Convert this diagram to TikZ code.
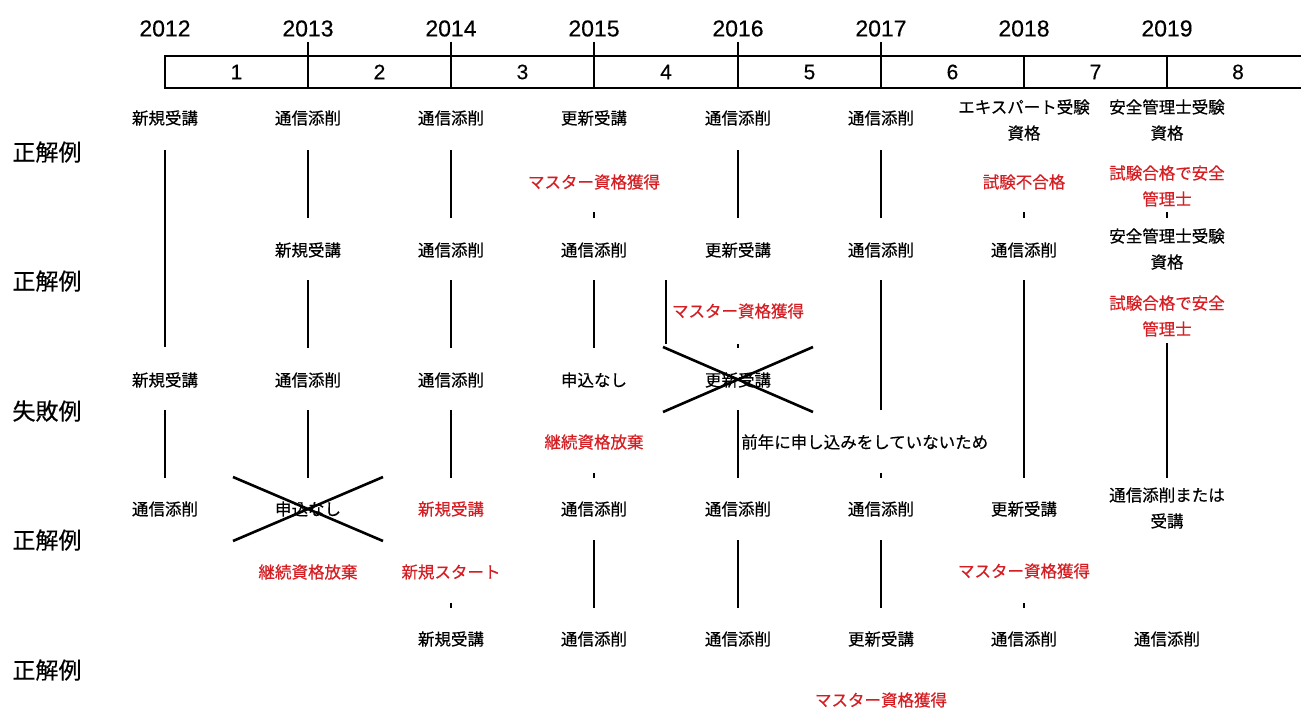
\documentclass[tikz,border=0pt]{standalone}
\usepackage{fontspec}
\setmainfont{Noto Sans CJK JP}[FakeBold=0.4]
\newfontfamily\numfont{Liberation Sans}[FakeBold=0.3]
\definecolor{jpred}{RGB}{212,30,35}
\begin{document}
\begin{tikzpicture}[x=1pt,y=-1pt,
  lbl/.style={font=\fontsize{16.5}{26}\selectfont, inner sep=0pt, align=center},
  redlbl/.style={lbl, text=jpred},
  rowlbl/.style={font=\fontsize{23}{28}\selectfont, inner sep=0pt},
  yr/.style={font=\numfont\fontsize{23}{26}\selectfont, inner sep=0pt},
  num/.style={font=\numfont\fontsize{21}{24}\selectfont, inner sep=0pt},
  vline/.style={line width=2pt},
  boxline/.style={line width=2pt},
  cross/.style={line width=2.6pt}]
\useasboundingbox (0,0) rectangle (1301,709);
% timeline
\foreach \y/\x in {2012/165,2013/308,2014/451,2015/594,2016/738,2017/881,2018/1024,2019/1167}
  \node[yr] (y\y) at (\x,28.5) {\y};
\draw[boxline] (1301,56) -- (165,56) -- (165,88) -- (1301,88);
\foreach \x in {308,451,594,738,881} \draw[boxline] (\x,42) -- (\x,88);
\foreach \x in {1024,1167} \draw[boxline] (\x,56) -- (\x,88);
\foreach \n/\x in {1/236.5,2/379.5,3/522.5,4/666,5/809.5,6/952.5,7/1095.5,8/1238}
  \node[num] (n\n) at (\x,72) {\n};
% row labels
\node[rowlbl] (L1) at (47,152) {正解例};
\node[rowlbl] (L2) at (47,281) {正解例};
\node[rowlbl] (L3) at (47,411) {失敗例};
\node[rowlbl] (L4) at (47,540) {正解例};
\node[rowlbl] (L5) at (47,670) {正解例};
% row 1
\node[lbl] (a0) at (165,118) {新規受講};
\node[lbl] (a1) at (308,118) {通信添削};
\node[lbl] (a2) at (451,118) {通信添削};
\node[lbl] (a3) at (594,118) {更新受講};
\node[lbl] (a4) at (738,118) {通信添削};
\node[lbl] (a5) at (881,118) {通信添削};
\node[lbl] (a6) at (1024,120) {エキスパート受験\\資格};
\node[lbl] (a7) at (1167,120) {安全管理士受験\\資格};
\node[redlbl] (ra3) at (594,182) {マスター資格獲得};
\node[redlbl] (ra6) at (1024,182) {試験不合格};
\node[redlbl] (ra7) at (1167,186) {試験合格で安全\\管理士};
% row 2
\node[lbl] (b1) at (308,250) {新規受講};
\node[lbl] (b2) at (451,250) {通信添削};
\node[lbl] (b3) at (594,250) {通信添削};
\node[lbl] (b4) at (738,250) {更新受講};
\node[lbl] (b5) at (881,250) {通信添削};
\node[lbl] (b6) at (1024,250) {通信添削};
\node[lbl] (b7) at (1167,249) {安全管理士受験\\資格};
\node[redlbl] (rb4) at (738,311) {マスター資格獲得};
\node[redlbl] (rb7) at (1167,316) {試験合格で安全\\管理士};
% row 3
\node[lbl] (c0) at (165,380) {新規受講};
\node[lbl] (c1) at (308,380) {通信添削};
\node[lbl] (c2) at (451,380) {通信添削};
\node[lbl] (c3) at (594,380) {申込なし};
\node[lbl] (c4) at (738,380) {更新受講};
\node[redlbl] (rc3) at (594,442) {継続資格放棄};
\node[lbl,anchor=west] (note) at (741,442) {前年に申し込みをしていないため};
% row 4
\node[lbl] (d0) at (165,509) {通信添削};
\node[lbl] (d1) at (308,509) {申込なし};
\node[redlbl] (d2) at (451,509) {新規受講};
\node[lbl] (d3) at (594,509) {通信添削};
\node[lbl] (d4) at (738,509) {通信添削};
\node[lbl] (d5) at (881,509) {通信添削};
\node[lbl] (d6) at (1024,509) {更新受講};
\node[lbl] (d7) at (1167,508) {通信添削または\\受講};
\node[redlbl] (rd1) at (308,572) {継続資格放棄};
\node[redlbl] (rd2) at (451,572) {新規スタート};
\node[redlbl] (rd6) at (1024,571) {マスター資格獲得};
% row 5
\node[lbl] (e2) at (451,639) {新規受講};
\node[lbl] (e3) at (594,639) {通信添削};
\node[lbl] (e4) at (738,639) {通信添削};
\node[lbl] (e5) at (881,639) {更新受講};
\node[lbl] (e6) at (1024,639) {通信添削};
\node[lbl] (e7) at (1167,639) {通信添削};
\node[redlbl] (re5) at (881,700) {マスター資格獲得};
% connectors below row 1
\draw[vline] (165,150) -- (165,347);
\foreach \x in {308,451,738,881} \draw[vline] (\x,150) -- (\x,218);
\foreach \x in {594,1024,1167} \draw[vline] (\x,212) -- (\x,218);
% below row 2
\foreach \x in {308,451,594} \draw[vline] (\x,280) -- (\x,348);
\draw[vline] (666,280) -- (666,344);
\draw[vline] (738,344) -- (738,348);
\draw[vline] (881,280) -- (881,410);
\draw[vline] (1024,280) -- (1024,478);
\draw[vline] (1167,343) -- (1167,478);
% below row 3
\foreach \x in {165,308,451,738} \draw[vline] (\x,410) -- (\x,478);
\foreach \x in {594,881} \draw[vline] (\x,473) -- (\x,478);
% below row 4
\foreach \x in {594,738,881} \draw[vline] (\x,540) -- (\x,608);
\foreach \x in {451,1024} \draw[vline] (\x,603) -- (\x,608);
% crosses
\draw[cross] (663,347) -- (813,412);
\draw[cross] (663,412) -- (813,347);
\draw[cross] (233,477) -- (383,541);
\draw[cross] (233,541) -- (383,477);
\end{tikzpicture}
\end{document}
